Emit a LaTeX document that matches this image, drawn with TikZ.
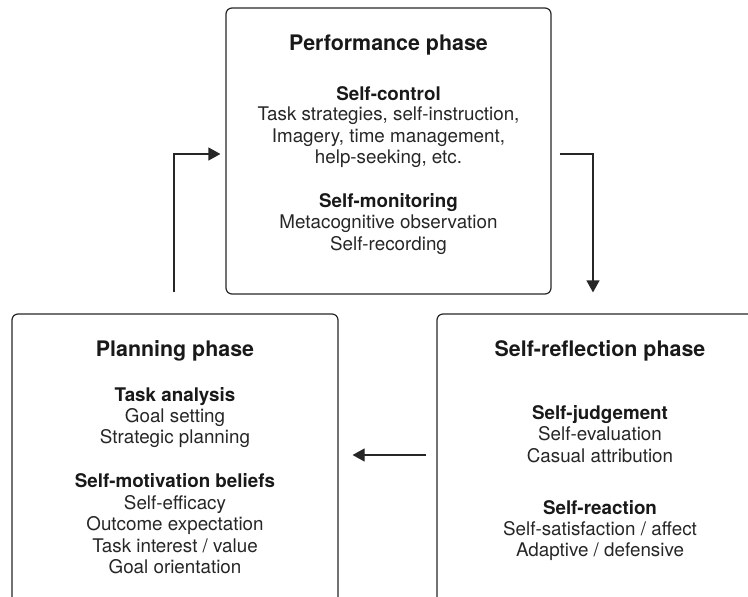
\documentclass[tikz,border=0pt]{standalone}
\usepackage{fontspec}
\setmainfont{TeX Gyre Heros}
\usetikzlibrary{arrows.meta}
\begin{document}
\begin{tikzpicture}[x=1pt,y=-1pt,
  phase/.style={draw=black!85, line width=1.2pt, rounded corners=6pt, inner sep=0pt},
  title/.style={font=\fontsize{21.4}{25}\selectfont\bfseries, anchor=base, inner sep=0pt, text=black!90},
  head/.style={font=\fontsize{18.8}{21.5}\selectfont\bfseries, anchor=base, inner sep=0pt, text=black!90},
  body/.style={font=\fontsize{18.8}{21.5}\selectfont, anchor=base, inner sep=0pt, text=black!85},
  flow/.style={draw=black!85, line width=1.2pt, -{Triangle[length=12pt,width=13pt]}}]
\clip (0,0) rectangle (748,597);

% the three phase boxes (the lower two run past the bottom edge)
\node[phase, minimum width=325pt, minimum height=286pt] (perf) at (388.5,151) {};
\node[phase, minimum width=326pt, minimum height=346pt] (plan) at (175,487) {};
\node[phase, minimum width=326pt, minimum height=346pt] (refl) at (600,487) {};

% Performance phase
\node[title] (perf-t) at (388.5,50.5) {Performance phase};
\node[head] (perf-h1) at (388.5,100) {Self-control};
\node[body] (perf-b1) at (388.5,120.5) {Task strategies, self-instruction,};
\node[body] (perf-b2) at (388.5,142) {Imagery, time management,};
\node[body] (perf-b3) at (388.5,163.5) {help-seeking, etc.};
\node[head] (perf-h2) at (388.5,207) {Self-monitoring};
\node[body] (perf-b4) at (388.5,228.5) {Metacognitive observation};
\node[body] (perf-b5) at (388.5,250) {Self-recording};

% Planning phase
\node[title] (plan-t) at (175,356.7) {Planning phase};
\node[head] (plan-h1) at (175,401) {Task analysis};
\node[body] (plan-b1) at (175,422) {Goal setting};
\node[body] (plan-b2) at (175,443) {Strategic planning};
\node[head] (plan-h2) at (175,487) {Self-motivation beliefs};
\node[body] (plan-b3) at (175,509) {Self-efficacy};
\node[body] (plan-b4) at (175,530) {Outcome expectation};
\node[body] (plan-b5) at (175,552) {Task interest / value};
\node[body] (plan-b6) at (175,573) {Goal orientation};

% Self-reflection phase
\node[title] (refl-t) at (600,356.7) {Self-reflection phase};
\node[head] (refl-h1) at (600,419) {Self-judgement};
\node[body] (refl-b1) at (600,440) {Self-evaluation};
\node[body] (refl-b2) at (600,462) {Casual attribution};
\node[head] (refl-h2) at (600,514) {Self-reaction};
\node[body] (refl-b3) at (600,535) {Self-satisfaction / affect};
\node[body] (refl-b4) at (600,556) {Adaptive / defensive};

% cycle arrows
\draw[flow, shorten >=5pt] ([xshift=-1pt,yshift=21pt]plan.north) |- ([yshift=-3pt]perf.west);
\draw[flow] ([xshift=8pt,yshift=-3pt]perf.east) -| ([xshift=-7pt,yshift=21pt]refl.north);
\draw[flow] ([xshift=-10pt,yshift=32pt]refl.west) -- ([xshift=14pt,yshift=32pt]plan.east);
\end{tikzpicture}
\end{document}
